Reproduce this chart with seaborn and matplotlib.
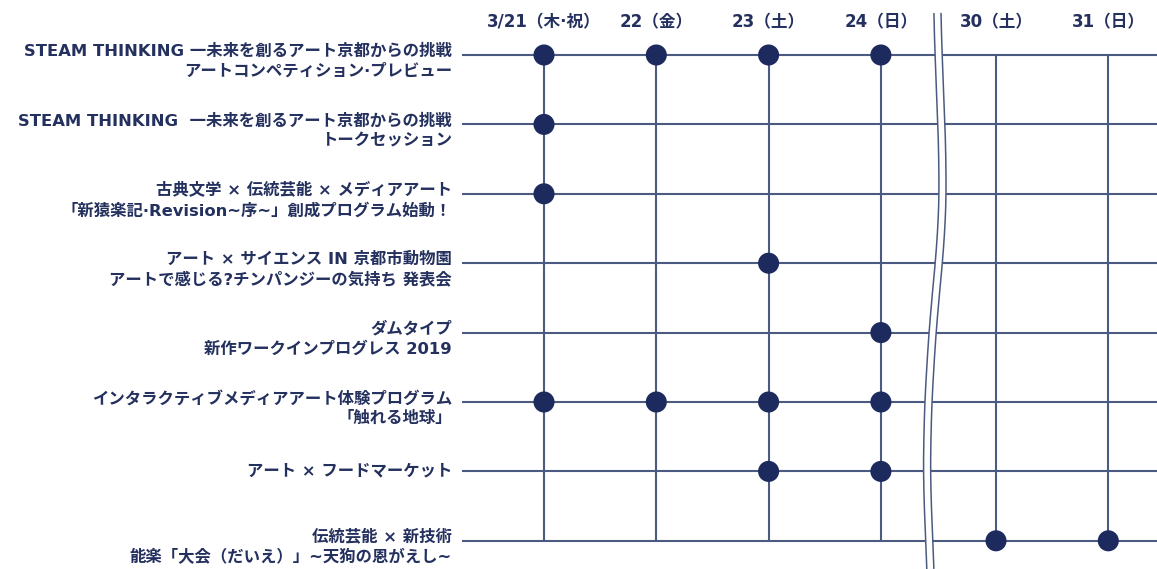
import numpy as np
import pandas as pd
import matplotlib
matplotlib.use('Agg')
import matplotlib.pyplot as plt
import seaborn as sns

# Event names (rows) and dates (columns).
events = [
    'STEAM THINKING 一未来を創るアート京都からの挑戦\nアートコンペティション·プレビュー',
    'STEAM THINKING  一未来を創るアート京都からの挑戦\nトークセッション',
    '古典文学 × 伝統芸能 × メディアアート\n「新猿楽記·Revision~序~」創成プログラム始動！',
    'アート × サイエンス IN 京都市動物園\nアートで感じる?チンパンジーの気持ち 発表会',
    'ダムタイプ\n新作ワークインプログレス 2019',
    'インタラクティブメディアアート体験プログラム\n「触れる地球」',
    'アート × フードマーケット',
    '伝統芸能 × 新技術\n能楽「大会（だいえ）」~天狗の恩がえし~',
]
dates = ['3/21（木·祝）', '22（金）', '23（土）', '24（日）', '30（土）', '31（日）']

# Which dates each event takes place on.
schedule = [
    ['3/21（木·祝）', '22（金）', '23（土）', '24（日）'],
    ['3/21（木·祝）'],
    ['3/21（木·祝）'],
    ['23（土）'],
    ['24（日）'],
    ['3/21（木·祝）', '22（金）', '23（土）', '24（日）'],
    ['23（土）', '24（日）'],
    ['30（土）', '31（日）'],
]

# Colours.
line_color = '#4a5a80'
dot_color = '#1c2a5e'
text_color = '#24305e'

sns.set_style('white')
plt.rcParams['font.family'] = ['DejaVu Sans', 'Noto Sans CJK JP']

# Column positions: a small gap after the break between 24 and 30.
gap = 0.025
x_pos = {d: i + (gap if i >= 4 else 0) for i, d in enumerate(dates)}
y_pos = {e: i for i, e in enumerate(events)}

rows = []
for event, days in zip(events, schedule):
    for day in days:
        rows.append({'event': event, 'date': day,
                     'x': x_pos[day], 'y': y_pos[event]})
df = pd.DataFrame(rows)

# Pixel scale of the layout.
px_x, px_y = 112.3, 69.4
x0_px, y0_px = 544, 55

fig = plt.figure(figsize=(11.57, 5.69), dpi=100)
ax = fig.add_axes([0, 0, 1, 1])
x_left, x_right = -x0_px / px_x, (1157 - x0_px) / px_x
y_bottom, y_top = (569 - y0_px) / px_y, -y0_px / px_y

# Grid lines.
line_start = (462 - x0_px) / px_x
ax.hlines(list(y_pos.values()), line_start, x_right, color=line_color,
          lw=1.5, zorder=1)
ax.vlines(list(x_pos.values()), 0, len(events) - 1, color=line_color,
          lw=1.5, zorder=1)

# Wavy break between the two weeks (white band with dark edges).
brk_px_y = [13, 90, 167, 233, 300, 367, 433, 500, 569]
brk_px_x = [937, 940, 943, 942, 935, 930, 927, 927, 931]
yy = np.linspace(brk_px_y[0], brk_px_y[-1], 300)
xx = np.interp(yy, brk_px_y, brk_px_x)
k = 25
xx_s = np.convolve(np.pad(xx, k, mode='edge'), np.ones(2 * k + 1) / (2 * k + 1),
                   mode='valid')
bx = (xx_s - x0_px) / px_x
by = (yy - y0_px) / px_y
ax.plot(bx, by, color=line_color, lw=6.2, solid_capstyle='butt', zorder=2)
ax.plot(bx, by, color='white', lw=4.0, solid_capstyle='butt', zorder=3)

# Dots.
sns.scatterplot(data=df, x='x', y='y', ax=ax, s=230, color=dot_color,
                edgecolor='none', zorder=4, legend=False)
ax.set_xlim(x_left, x_right)
ax.set_ylim(y_bottom, y_top)
ax.axis('off')

# Event labels.
label_x = (452 - x0_px) / px_x
for event, y in y_pos.items():
    off = 0.09 if '\n' in event else 0.0
    ax.text(label_x, y + off, event, ha='right', va='center',
            fontsize=11.8, fontweight='bold', color=text_color,
            linespacing=1.36, multialignment='right')

# Date headers.
header_y = (22 - y0_px) / px_y
for d, x in x_pos.items():
    ax.text(x, header_y, d, ha='center', va='center', fontsize=12,
            fontweight='bold', color=text_color)

fig.savefig('out.png', dpi=100)
